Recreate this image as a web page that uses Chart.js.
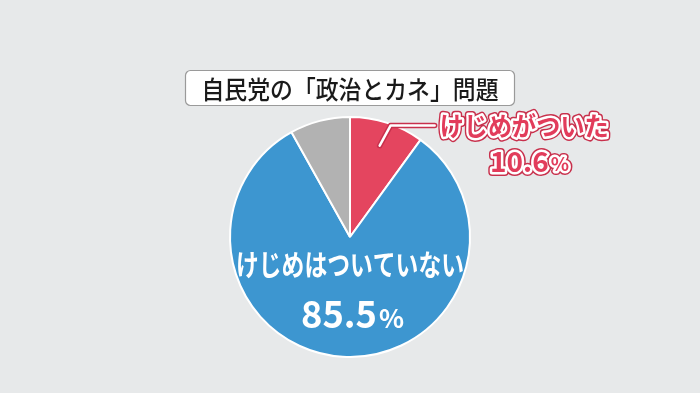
<!DOCTYPE html>
<html>
<head>
<meta charset="utf-8">
<script src="https://cdn.jsdelivr.net/npm/chart.js@4/dist/chart.umd.min.js"></script>
<style>
    html, body { margin: 0; padding: 0; background: #e7e9ea; }
    #wrap { width: 700px; height: 393px; position: relative; }
</style>
</head>
<body>
<div id="wrap"><canvas id="pieChart"></canvas></div>
<script>
const categories = ['けじめがついた', 'けじめはついていない', 'その他'];
const sliceValues = [10.0, 81.9, 8.1]; // slice sizes as drawn in the graphic
const labelValues = ['10.6', '85.5'];
const titleText = '自民党の「政治とカネ」問題';
const sliceColors = ['#e4455f', '#3d96d0', '#b2b2b2'];

const FONT = '"Noto Sans CJK JP", "Noto Sans", sans-serif';

// draw text squeezed horizontally to a target width
function fitText(ctx, text, x, y, width, mode) {
    const w = ctx.measureText(text).width;
    const sx = Math.min(1, width / w);
    ctx.save();
    ctx.translate(x, y);
    ctx.scale(sx, 1);
    if (mode === 'outline') {
        ctx.strokeStyle = '#c8304c';
        ctx.lineWidth = 8;
        ctx.strokeText(text, 0, 0);
        ctx.strokeStyle = '#ffffff';
        ctx.lineWidth = 5;
        ctx.strokeText(text, 0, 0);
    }
    ctx.fillText(text, 0, 0);
    ctx.restore();
    return w * sx;
}

const overlayPlugin = {
    id: 'overlay',
    afterDraw(chart) {
        const ctx = chart.ctx;
        const meta = chart.getDatasetMeta(0);
        ctx.save();
        ctx.lineJoin = 'round';
        ctx.lineCap = 'round';
        ctx.textBaseline = 'middle';

        // title box
        ctx.beginPath();
        ctx.roundRect(185.5, 70.5, 329, 35, 5);
        ctx.fillStyle = '#ffffff';
        ctx.fill();
        ctx.strokeStyle = '#9a9a9a';
        ctx.lineWidth = 1.2;
        ctx.stroke();
        ctx.fillStyle = '#1a1a1a';
        ctx.font = '500 25px ' + FONT;
        ctx.textAlign = 'center';
        fitText(ctx, titleText, 350, 89, 297);

        // red slice label with leader line
        const red = meta.data[0];
        const R = red.outerRadius;
        const mid = (red.startAngle + red.endAngle) / 2;
        const p0 = { x: red.x + Math.cos(mid) * R * 0.8, y: red.y + Math.sin(mid) * R * 0.8 };
        const p1 = { x: p0.x + 11, y: red.y - R * 0.93 };
        const p2 = { x: p1.x + 44, y: p1.y };
        ctx.beginPath();
        ctx.moveTo(p0.x, p0.y);
        ctx.lineTo(p1.x, p1.y);
        ctx.lineTo(p2.x, p2.y);
        ctx.strokeStyle = '#c8304c';
        ctx.lineWidth = 5.5;
        ctx.stroke();
        ctx.strokeStyle = '#ffffff';
        ctx.lineWidth = 2.5;
        ctx.stroke();

        ctx.textAlign = 'left';
        ctx.fillStyle = '#e23c5b';
        ctx.font = 'bold 26px ' + FONT;
        fitText(ctx, categories[0], p2.x + 5, p2.y + 1, 169, 'outline');
        ctx.font = 'bold 28px ' + FONT;
        const w1 = fitText(ctx, labelValues[0], 490, 161, 60, 'outline');
        ctx.font = 'bold 19px ' + FONT;
        fitText(ctx, '%', 490 + w1 + 2, 164, 20, 'outline');

        // blue slice label
        const blue = meta.data[1];
        ctx.fillStyle = '#ffffff';
        ctx.textAlign = 'center';
        ctx.font = 'bold 29px ' + FONT;
        fitText(ctx, categories[1], blue.x, 265, 228);
        ctx.textAlign = 'left';
        ctx.font = 'bold 38px ' + FONT;
        const w2 = ctx.measureText(labelValues[1]).width;
        fitText(ctx, labelValues[1], 301, 314, 76);
        ctx.font = 'bold 26px ' + FONT;
        fitText(ctx, '%', 301 + Math.min(w2, 76) + 2, 318, 26);

        ctx.restore();
    }
};

new Chart(document.getElementById('pieChart').getContext('2d'), {
    type: 'pie',
    data: {
        labels: categories,
        datasets: [{
            data: sliceValues,
            backgroundColor: sliceColors,
            borderColor: '#ffffff',
            borderWidth: 2
        }]
    },
    options: {
        responsive: true,
        maintainAspectRatio: false,
        animation: false,
        radius: 120,
        layout: { padding: { top: 81 } },
        plugins: {
            legend: { display: false },
            tooltip: { enabled: false }
        }
    },
    plugins: [overlayPlugin]
});
</script>
</body>
</html>
